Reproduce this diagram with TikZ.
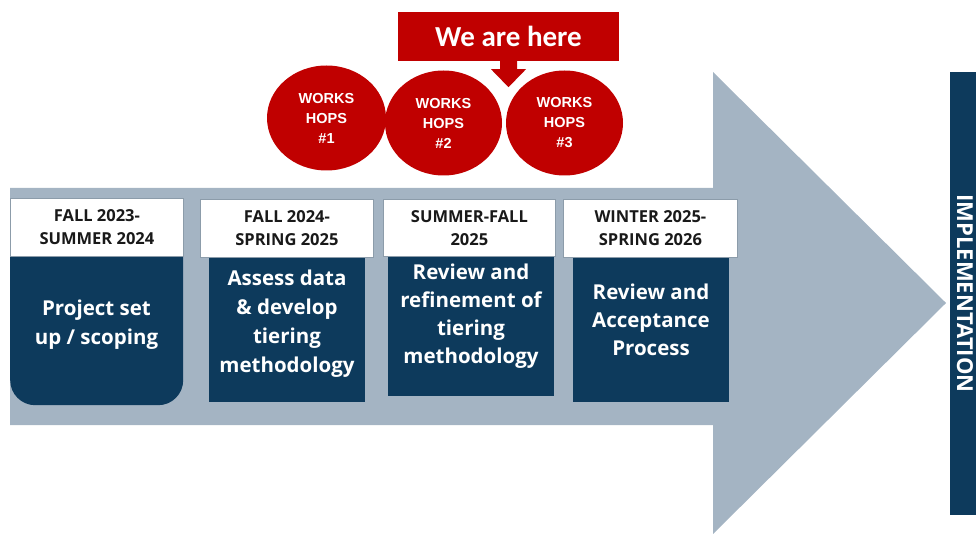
\documentclass[tikz,border=0pt]{standalone}
\usepackage{fontspec}
\setmainfont{Open Sans}
\newfontfamily\arialfont{Liberation Sans}
\newfontfamily\calfont{Carlito}
\usetikzlibrary{shapes.geometric}
\definecolor{navy}{HTML}{0D3A5C}
\definecolor{arrowgray}{HTML}{A4B4C3}
\definecolor{hdrline}{HTML}{8C9CAA}
\definecolor{wsred}{HTML}{C00000}
\begin{document}
\begin{tikzpicture}[x=1pt,y=-1pt,
  hdr/.style={draw=hdrline, line width=0.8pt, fill=white, anchor=north west,
    inner sep=0pt, align=center, text=black!90,
    font=\bfseries\fontsize{16.5}{23}\selectfont},
  bodybox/.style={fill=navy, anchor=north west, inner sep=0pt},
  bodytxt/.style={text=white, align=center,
    font=\bfseries\fontsize{20.5}{29}\selectfont},
  ws/.style={ellipse, fill=wsred, text=white, align=center, inner sep=0pt,
    font=\arialfont\bfseries\fontsize{14.5}{20}\selectfont}]
\useasboundingbox (0,0) rectangle (976,534);

% timeline arrow
\fill[arrowgray] (10,188) -- (713,188) -- (713,72) -- (946,303)
  -- (713,534) -- (713,425) -- (10,425) -- cycle;

% phase bodies
\node[bodybox, rounded corners=25pt, minimum width=173pt, minimum height=179pt] (d1) at (10,226) {};
\node[bodybox, minimum width=156pt, minimum height=145pt] (d2) at (209,257) {};
\node[bodybox, minimum width=166pt, minimum height=139pt] (d3) at (388,257) {};
\node[bodybox, minimum width=156pt, minimum height=145pt] (d4) at (573,257) {};

% phase headers
\node[hdr, minimum width=173pt, minimum height=58pt] (h1) at (10,198) {FALL 2023-\\SUMMER 2024};
\node[hdr, minimum width=173pt, minimum height=58pt] (h2) at (200,199) {FALL 2024-\\SPRING 2025};
\node[hdr, minimum width=172pt, minimum height=57pt] (h3) at (383,199) {SUMMER-FALL\\2025};
\node[hdr, minimum width=174pt, minimum height=58pt] (h4) at (563,199) {WINTER 2025-\\SPRING 2026};

% phase descriptions
\node[bodytxt] (t1) at (96.5,324.5) {Project set\\up / scoping};
\node[bodytxt] (t2) at (287,323.5) {Assess data\\\& develop\\tiering\\methodology};
\node[bodytxt, font=\bfseries\fontsize{20.5}{28}\selectfont] (t3) at (471,316) {Review and\\refinement of\\tiering\\methodology};
\node[bodytxt, font=\bfseries\fontsize{20.5}{28}\selectfont] (t4) at (651,320) {Review and\\Acceptance\\Process};

% workshops
\node[ws, minimum width=119pt, minimum height=105pt] (w1) at (326.5,118) {WORKS\\HOPS\\\#1};
\node[ws, minimum width=117pt, minimum height=105pt] (w2) at (443.5,123) {WORKS\\HOPS\\\#2};
\node[ws, minimum width=117pt, minimum height=105pt] (w3) at (564.5,123) {WORKS\\HOPS\\\#3};

% current position callout
\node[fill=wsred, text=white, minimum width=221pt, minimum height=49pt, inner sep=0pt,
  font=\calfont\bfseries\fontsize{29}{34}\selectfont] (here) at (508.5,36.5) {We are here};
\fill[wsred] ([xshift=-8.5pt]here.south) -- ++(0,8) -- ++(-9,0) -- ++(17.5,18)
  -- ++(17.5,-18) -- ++(-9,0) -- ++(0,-8) -- cycle;

% implementation bar
\node[fill=navy, text=white, rotate=-90, minimum width=443pt, minimum height=30pt,
  inner sep=0pt, font=\bfseries\fontsize{22}{26}\selectfont] (impl) at (965,293.5) {IMPLEMENTATION};
\end{tikzpicture}
\end{document}
